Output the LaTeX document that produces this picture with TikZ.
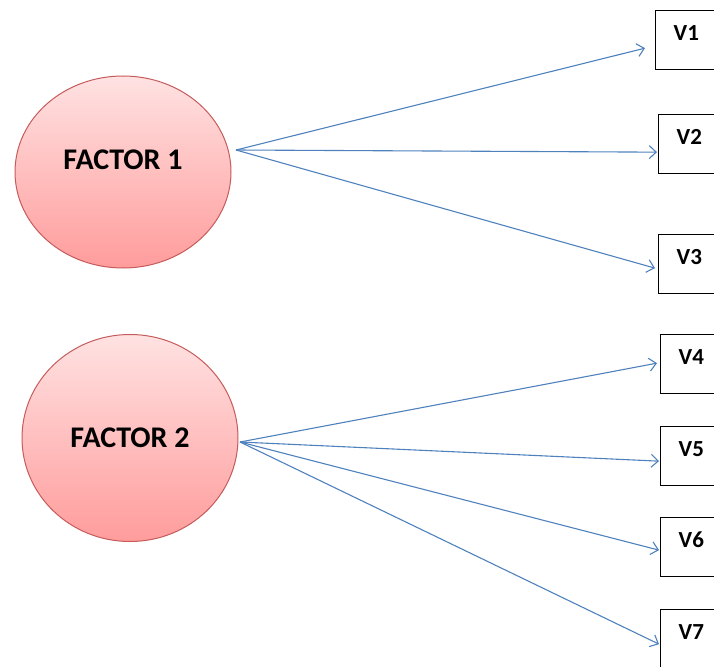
\documentclass[tikz,border=0pt]{standalone}
\usepackage{fontspec}
\setmainfont{Carlito}
\usetikzlibrary{shapes}
\usetikzlibrary{arrows.meta}
\usetikzlibrary{positioning}

\definecolor{edgeblue}{HTML}{4F81BD}
\definecolor{factorrim}{HTML}{C65B5B}
\definecolor{factortop}{HTML}{FFE2E2}
\definecolor{factorbot}{HTML}{FF9C9C}

\begin{document}
\begin{tikzpicture}[
    x=1pt, y=-1pt,
    font=\bfseries
]
\tikzset{
    factornode/.style = {ellipse, draw=factorrim, line width=1pt,
        top color=factortop, bottom color=factorbot,
        minimum width=216pt, inner sep=0pt, font=\bfseries\fontsize{30}{32}\selectfont},
    varnode/.style = {rectangle, draw=black, line width=1.3pt, anchor=north west,
        text width=30pt, align=left, inner xsep=18pt, inner ysep=6pt,
        text height=24pt, text depth=23pt, font=\bfseries\fontsize{23}{25}\selectfont},
    loadedge/.style = {-{Straight Barb[length=7pt,width=13pt]}, edgeblue, line width=1.1pt}
}
\useasboundingbox (0,0) rectangle (714,666);
% latent factors
\node[factornode, minimum height=192pt, text height=10pt, text depth=16pt] at (123,172) (f1) {FACTOR 1};
\node[factornode, minimum height=207pt] at (130,438) (f2) {FACTOR 2};
\coordinate (f1out) at (236,150);
\coordinate (f2out) at (240,442);
% observed variables
\node[varnode] at (655,10)  (v1) {V1};
\node[varnode] at (658,114) (v2) {V2};
\node[varnode] at (658,234) (v3) {V3};
\node[varnode] at (660,334) (v4) {V4};
\node[varnode] at (660,426) (v5) {V5};
\node[varnode] at (660,517) (v6) {V6};
\node[varnode] at (660,609) (v7) {V7};
% loadings
\draw[loadedge] (f1out) -- ([xshift=-10pt,yshift=-8pt]v1.west);
\draw[loadedge] (f1out) -- ([xshift=-1pt,yshift=-8pt]v2.west);
\draw[loadedge] (f1out) -- ([xshift=-3pt,yshift=-4pt]v3.west);
\draw[loadedge] (f2out) -- ([xshift=-3pt,yshift=1pt]v4.west);
\draw[loadedge] (f2out) -- ([xshift=-1pt,yshift=-5pt]v5.west);
\draw[loadedge] (f2out) -- ([xshift=-1pt,yshift=-3pt]v6.west);
\draw[loadedge] (f2out) -- ([xshift=-1pt,yshift=-5pt]v7.west);
\end{tikzpicture}
\end{document}
